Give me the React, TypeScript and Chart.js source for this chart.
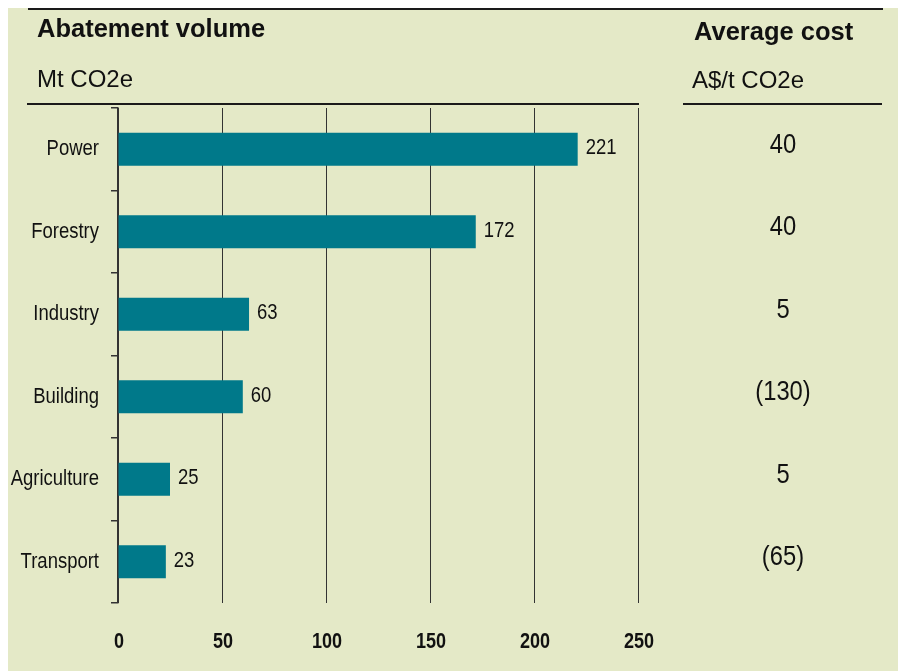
import React, { useEffect, useRef } from "react";
import { Chart, registerables } from "chart.js";

Chart.register(...registerables);

const categories = ["Power", "Forestry", "Industry", "Building", "Agriculture", "Transport"];
const volumes = [221, 172, 63, 60, 25, 23];
const avgCostLabels = ["40", "40", "5", "(130)", "5", "(65)"];
const xTicks = [0, 50, 100, 150, 200, 250];

const BG = "#e4e9c7";
const BAR = "#00798a";
const SANS = '"Liberation Sans", Arial, sans-serif';

function narrowText(
  ctx: CanvasRenderingContext2D,
  text: string,
  x: number,
  y: number,
  align: CanvasTextAlign,
  sx = 0.84
) {
  ctx.save();
  ctx.translate(x, y);
  ctx.scale(sx, 1);
  ctx.textAlign = align;
  ctx.fillText(text, 0, 0);
  ctx.restore();
}

const decorPlugin = {
  id: "decor",
  afterDraw(chart: any) {
    const ctx = chart.ctx as CanvasRenderingContext2D;
    const yScale = chart.scales.y;
    const xScale = chart.scales.x;
    const meta = chart.getDatasetMeta(0);
    ctx.save();
    // rules
    ctx.strokeStyle = "#1a1a1a";
    ctx.lineWidth = 2;
    ctx.beginPath();
    ctx.moveTo(20, 1);
    ctx.lineTo(875, 1);
    ctx.moveTo(19, 96);
    ctx.lineTo(631, 96);
    ctx.moveTo(675, 96);
    ctx.lineTo(874, 96);
    ctx.stroke();

    // titles
    ctx.fillStyle = "#111";
    ctx.textAlign = "left";
    ctx.textBaseline = "alphabetic";
    ctx.font = `bold 25.5px ${SANS}`;
    ctx.fillText("Abatement volume", 29, 29);
    ctx.fillText("Average cost", 686, 32);
    ctx.font = `24px ${SANS}`;
    narrowText(ctx, "Mt CO2e", 29, 79, "left", 1.0);
    narrowText(ctx, "A$/t CO2e", 684, 80, "left", 1.0);

    ctx.textBaseline = "middle";
    // category labels
    ctx.font = `22px ${SANS}`;
    categories.forEach((c, i) => {
      const y = yScale.getPixelForValue(i);
      narrowText(ctx, c, 91, y, "right", 0.84);
    });

    // value labels
    ctx.font = `22px ${SANS}`;
    meta.data.forEach((bar: any, i: number) => {
      narrowText(ctx, String(volumes[i]), bar.x + 8, bar.y - 1, "left", 0.84);
    });

    // x tick labels
    ctx.font = `bold 22px ${SANS}`;
    xTicks.forEach((v) => {
      narrowText(ctx, String(v), xScale.getPixelForValue(v) + 1, 634, "center", 0.82);
    });

    // average cost column
    ctx.font = `27px ${SANS}`;
    categories.forEach((_c, i) => {
      const y = yScale.getPixelForValue(i);
      narrowText(ctx, avgCostLabels[i], 775, y - 4, "center", 0.88);
    });
    ctx.restore();
  },
};

export default function App() {
  const ref = useRef<HTMLCanvasElement>(null);
  useEffect(() => {
    if (!ref.current) return;
    const chart = new Chart(ref.current, {
      type: "bar",
      data: {
        labels: categories,
        datasets: [
          {
            data: volumes,
            backgroundColor: BAR,
            borderWidth: 0,
            barPercentage: 0.8,
            categoryPercentage: 0.5,
          },
        ],
      },
      options: {
        indexAxis: "y",
        responsive: false,
        animation: false,
        devicePixelRatio: 1,
        layout: { padding: { top: 100, right: 260, left: 0, bottom: 0 } },
        plugins: { legend: { display: false }, tooltip: { enabled: false } },
        scales: {
          x: {
            type: "linear",
            min: 0,
            max: 250,
            afterBuildTicks: (s: any) => {
              s.ticks = xTicks.map((v) => ({ value: v }));
            },
            afterFit: (s: any) => {
              s.height = 68;
            },
            border: { display: false },
            grid: { color: "#333", lineWidth: 1, drawTicks: false },
            ticks: {
              padding: 27,
              color: "rgba(0,0,0,0)",
              font: { family: SANS, size: 18, weight: "bold" },
            },
          },
          y: {
            type: "category",
            afterFit: (s: any) => {
              s.width = 110;
            },
            border: { display: true, color: "#333", width: 1.5 },
            grid: {
              offset: true,
              drawOnChartArea: false,
              drawTicks: true,
              tickLength: 7,
              color: "#333",
              lineWidth: 1.5,
            },
            ticks: {
              padding: 10,
              color: "rgba(0,0,0,0)",
              font: { family: SANS, size: 18 },
            },
          },
        },
      },
      plugins: [decorPlugin],
    } as any);
    return () => chart.destroy();
  }, []);
  return (
    <div
      style={{
        position: "fixed",
        left: 8,
        top: 8,
        width: 890,
        height: 663,
        background: BG,
      }}
    >
      <canvas ref={ref} width={890} height={663} style={{ width: 890, height: 663, display: "block" }} />
    </div>
  );
}
